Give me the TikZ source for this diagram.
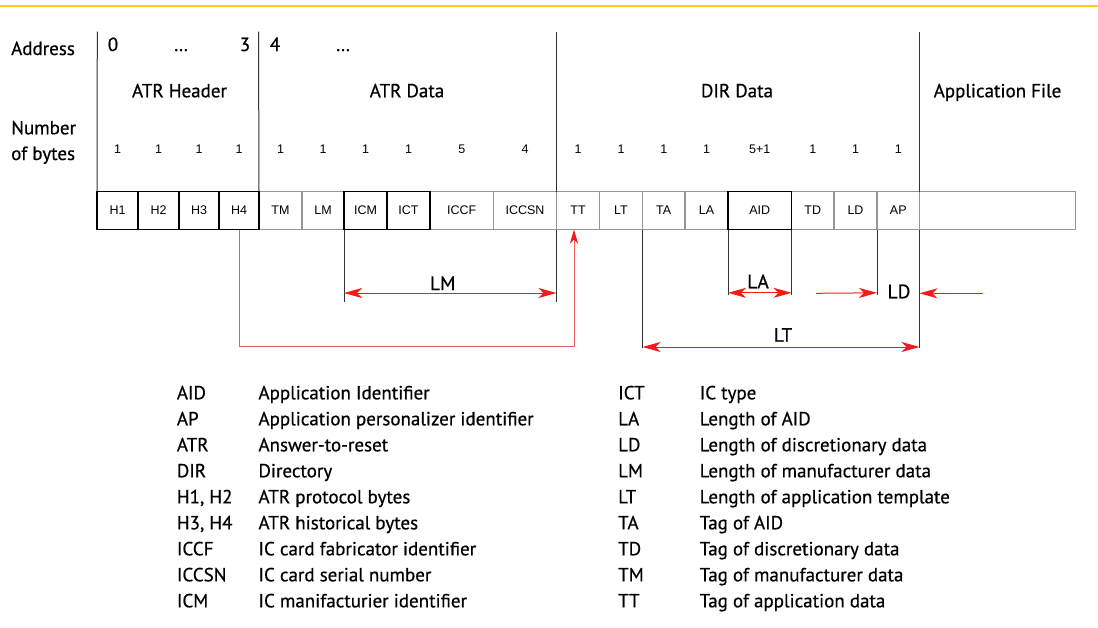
\documentclass[tikz,border=0pt]{standalone}
\usepackage{fontspec}
\setmainfont{PT Sans}[FakeBold=0.6]
\newfontfamily\cellfont{Liberation Sans}
\usetikzlibrary{arrows.meta}

\definecolor{gridgray}{HTML}{959595}
\definecolor{dimred}{HTML}{F21B1B}
\definecolor{linkred}{HTML}{EC5A5A}
\definecolor{rulegold}{HTML}{F4D21C}
\definecolor{inkgray}{HTML}{333333}

\begin{document}
\begin{tikzpicture}[x=1pt,y=-1pt,
  txt/.style={font=\fontsize{19}{21}\selectfont, inner sep=0, anchor=base},
  lftxt/.style={txt, anchor=base west},
  dimtxt/.style={font=\fontsize{19.5}{22}\selectfont, inner sep=0, anchor=base},
  cell/.style={draw=gridgray, line width=1.3pt, minimum height=38pt, inner sep=0,
    outer sep=0, anchor=west, font=\cellfont\fontsize{12.5}{14}\selectfont},
  keycell/.style={cell, draw=black, line width=1.8pt},
  bytes/.style={font=\cellfont\fontsize{12.5}{14}\selectfont, inner sep=0, anchor=base},
  divider/.style={draw=inkgray, line width=1pt},
  ext/.style={draw=inkgray, line width=0.9pt},
  dim/.style={draw=dimred, line width=1pt,
    >={Stealth[length=18pt,width=10pt,inset=5pt]}},
  link/.style={draw=linkred, line width=1pt,
    >={Stealth[length=14pt,width=8pt,inset=4pt,color=dimred]}}
]
\useasboundingbox (0,0) rectangle (1098,627);

% top rule
\draw[rulegold, line width=2pt] (0,6) -- (1098,6);

% ---- record cells (grey ones first, bold ones on top)
\node[cell, minimum width=43pt]   (tm)    at (259,210.5)   {TM};
\node[cell, minimum width=42pt]   (lm)    at (302,210.5)   {LM};
\node[cell, minimum width=63.5pt] (iccf)  at (430,210.5)   {ICCF};
\node[cell, minimum width=63pt]   (iccsn) at (493.5,210.5) {ICCSN};
\node[cell, minimum width=43pt]   (tt)    at (556.5,210.5) {TT};
\node[cell, minimum width=43pt]   (lt)    at (599.5,210.5) {LT};
\node[cell, minimum width=42.5pt] (ta)    at (642.5,210.5) {TA};
\node[cell, minimum width=43pt]   (la)    at (685,210.5)   {LA};
\node[cell, minimum width=42.5pt] (td)    at (791.5,210.5) {TD};
\node[cell, minimum width=43pt]   (ld)    at (834,210.5)   {LD};
\node[cell, minimum width=42.5pt] (ap)    at (877,210.5)   {AP};
\node[cell, minimum width=156pt]  (app)   at (919.5,210.5) {};
\node[keycell, minimum width=41pt]   (h1)  at (97,210.5)    {H1};
\node[keycell, minimum width=41pt]   (h2)  at (138,210.5)   {H2};
\node[keycell, minimum width=40pt]   (h3)  at (179,210.5)   {H3};
\node[keycell, minimum width=40pt]   (h4)  at (219,210.5)   {H4};
\node[keycell, minimum width=43pt]   (icm) at (344,210.5)   {ICM};
\node[keycell, minimum width=43pt]   (ict) at (387,210.5)   {ICT};
\node[keycell, minimum width=63.5pt] (aid) at (728,210.5)   {AID};

% ---- section dividers above the record
\coordinate (s0) at (97.3,31.5);
\coordinate (s1) at (258.5,31.5);
\coordinate (s2) at (556.5,31.5);
\coordinate (s3) at (919.5,31.5);
\draw[divider] (s0) -- (h1.north west);
\draw[divider] (s1) -- (h4.north east);
\draw[divider] (s2) -- (iccsn.north east);
\draw[divider] (s3) -- (ap.north east);

% ---- row labels
\node[lftxt] (addr) at (11,55) {Address};
\node[lftxt] (num)  at (11,134.3) {Number};
\node[lftxt] (ofb)  at (11,160) {of bytes};

% ---- addresses
\node[txt] (a0) at (113,51) {0};
\node[txt] (a1) at (181,51) {\dots};
\node[txt] (a3) at (245,51) {3};
\node[txt] (a4) at (275,51) {4};
\node[txt] (a5) at (343,51) {\dots};

% ---- section titles
\node[txt] (hdr)  at (179.5,97.3) {ATR Header};
\node[txt] (atrd) at (407,97.3)   {ATR Data};
\node[txt] (dird) at (737,97.3)   {DIR Data};
\node[txt] (appf) at (997.5,97.3) {Application File};

% ---- byte counts
\foreach \c/\n in {h1/1,h2/1,h3/1,h4/1,tm/1,lm/1,icm/1,ict/1,iccf/5,iccsn/4,
                   tt/1,lt/1,ta/1,la/1,aid/5+1,td/1,ld/1,ap/1}
  \node[bytes] (n\c) at (\c.center |- 0,153) {\n};

% ---- LM span
\draw[ext] (icm.south west) -- ++(0,72) coordinate (lm0);
\draw[ext] (iccsn.south east) -- ++(0,72) coordinate (lm1);
\draw[dim, <->] ([yshift=8.5pt]lm0) -- ([yshift=8.5pt]lm1);
\node[dimtxt] (lmlbl) at (442.7,290) {LM};

% ---- LA span
\draw[ext] (aid.south west) -- ++(0,65) coordinate (la0);
\draw[ext] (aid.south east) -- ++(0,65) coordinate (la1);
\draw[dim, <->] ([yshift=1.7pt]la0) -- ([yshift=1.7pt]la1);
\node[dimtxt] (lalbl) at (758,288.3) {LA};

% ---- LD span (arrows from outside)
\draw[ext] (ld.south east) -- ++(0,65) coordinate (ld0);
\draw[ext] (ap.south east) -- ++(0,118.5) coordinate (lt1);
\coordinate (ldin) at (816,293.3);
\coordinate (ldout) at (982.7,293.3);
\coordinate (ldend) at (lt1 |- ldout);
\draw[dim, ->] (ldin) -- ([yshift=1.7pt]ld0);
\draw[dim, ->] (ldout) -- (ldend);
\node[dimtxt] (ldlbl) at (899,298.3) {LD};

% ---- LT span
\draw[ext] (ta.south west) -- ++(0,118.5) coordinate (lt0);
\draw[dim, <->] ([yshift=1pt]lt0) -- ([yshift=1pt]lt1);
\node[dimtxt] (ltlbl) at (783,341.7) {LT};

% ---- pointer from H4 to TT
\draw[link, ->] (h4.south) -- ++(0,117) -| ([xshift=-4pt]tt.south);

% ---- abbreviations
\foreach \k/\d [count=\i from 0] in {
    AID/Application Identifier,
    AP/Application personalizer identifier,
    ATR/Answer-to-reset,
    DIR/Directory,
    {H1, H2}/ATR protocol bytes,
    {H3, H4}/ATR historical bytes,
    ICCF/IC card fabricator identifier,
    ICCSN/IC card serial number,
    ICM/IC manifacturier identifier}{
  \node[lftxt] (ka\i) at (176.7,399.3+26*\i) {\k};
  \node[lftxt] (da\i) at (258.3,399.3+26*\i) {\d};
}
\foreach \k/\d [count=\i from 0] in {
    ICT/IC type,
    LA/Length of AID,
    LD/Length of discretionary data,
    LM/Length of manufacturer data,
    LT/Length of application template,
    TA/Tag of AID,
    TD/Tag of discretionary data,
    TM/Tag of manufacturer data,
    TT/Tag of application data}{
  \node[lftxt] (kb\i) at (618,399.3+26*\i) {\k};
  \node[lftxt] (db\i) at (699.5,399.3+26*\i) {\d};
}
\end{tikzpicture}
\end{document}
